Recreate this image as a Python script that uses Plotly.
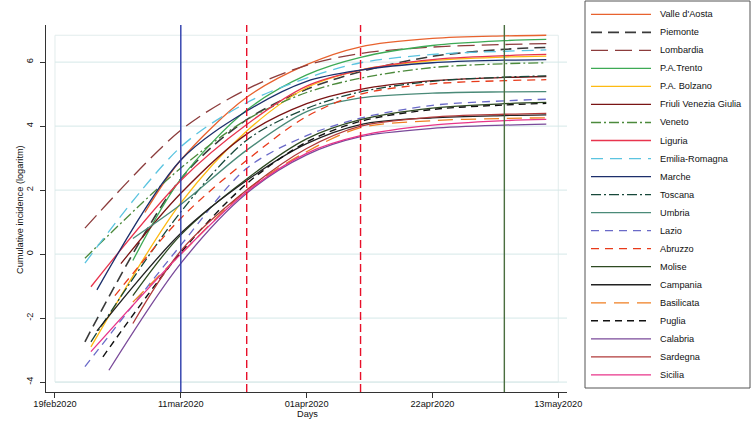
import plotly.graph_objects as go

# ---------------- data ----------------
regions = ["Valle d'Aosta", "Piemonte", "Lombardia", "P.A.Trento", "P.A. Bolzano",
           "Friuli Venezia Giulia", "Veneto", "Liguria", "Emilia-Romagna", "Marche",
           "Toscana", "Umbria", "Lazio", "Abruzzo", "Molise", "Campania",
           "Basilicata", "Puglia", "Calabria", "Sardegna", "Sicilia"]

start_dates = ["2020-03-05", "2020-02-24", "2020-02-24", "2020-03-03", "2020-02-25",
               "2020-03-01", "2020-02-24", "2020-02-25", "2020-02-24", "2020-02-26",
               "2020-02-25", "2020-03-03", "2020-02-24", "2020-02-29", "2020-03-03",
               "2020-02-26", "2020-03-03", "2020-02-27", "2020-02-28", "2020-03-03",
               "2020-02-25"]
start_vals = [1.30, -2.74, 0.81, -0.20, -2.90, -0.30, -0.13, -1.02, -0.28, -1.12,
              -2.74, 0.49, -3.52, -1.30, -1.30, -2.40, -1.50, -3.21, -3.63, -2.17, -3.05]

common_dates = ["2020-03-11", "2020-03-22", "2020-04-01", "2020-04-10",
                "2020-04-22", "2020-05-04", "2020-05-11"]
mar11 = [2.94, 2.35, 3.87, 2.35, 1.60, 1.90, 2.69, 2.30, 3.35, 2.94, 1.32, 1.55, 0.28,
         1.12, 0.60, 0.65, 0.00, 0.05, -0.29, 0.10, 0.00]
mar22 = [4.90, 4.20, 5.15, 4.50, 3.85, 3.75, 4.20, 4.05, 4.73, 4.47, 3.56, 3.25, 2.68,
         2.93, 2.35, 2.30, 2.00, 2.20, 1.90, 2.00, 1.95]
apr01 = [5.92, 5.15, 5.90, 5.60, 5.20, 4.70, 5.05, 5.25, 5.50, 5.40, 4.55, 4.45, 3.70,
         4.30, 3.60, 3.45, 3.20, 3.50, 3.10, 3.30, 3.15]
apr10 = [6.48, 5.70, 6.27, 6.15, 5.75, 5.15, 5.50, 5.75, 5.98, 5.75, 5.07, 4.88, 4.25,
         5.00, 4.20, 4.05, 3.95, 4.15, 3.67, 4.00, 3.70]
apr22 = [6.74, 6.18, 6.47, 6.52, 6.05, 5.42, 5.83, 6.08, 6.24, 5.98, 5.40, 5.03, 4.65,
         5.32, 4.56, 4.26, 4.17, 4.52, 3.93, 4.28, 4.03]
may04 = [6.82, 6.40, 6.55, 6.67, 6.16, 5.52, 5.95, 6.20, 6.34, 6.06, 5.53, 5.07, 4.79,
         5.42, 4.70, 4.33, 4.24, 4.66, 4.03, 4.37, 4.17]
may11 = [6.84, 6.46, 6.58, 6.71, 6.19, 5.55, 5.98, 6.24, 6.38, 6.08, 5.57, 5.08, 4.84,
         5.45, 4.74, 4.35, 4.26, 4.71, 4.06, 4.40, 4.21]

x_tick_vals = ["2020-02-19", "2020-03-11", "2020-04-01", "2020-04-22", "2020-05-13"]
x_tick_text = ["19feb2020", "11mar2020", "01apr2020", "22apr2020", "13may2020"]
y_tick_vals = [-4, -2, 0, 2, 4, 6]
y_tick_text = ["-4", "-2", "0", "2", "4", "6"]

vline_dates = ["2020-03-11", "2020-03-22", "2020-04-10", "2020-05-04"]

# ---------------- styles ----------------
colors = ["#E8622E", "#3A3A3A", "#8C3C3C", "#3DAA55", "#FDBA12", "#7A1414", "#4C8A3C",
          "#E8344E", "#5BC4E0", "#1C2F6B", "#17483A", "#4A8A78", "#6A6AC8", "#E83A1A",
          "#2E4A22", "#222222", "#F07F22", "#111111", "#7A4A9A", "#B03A3A", "#E8348A"]
dashes = ["solid", "11px,6px", "17px,7px", "solid", "solid", "solid",
          "10px,3px,2px,3px", "solid", "12px,7px", "solid", "10px,3px,2px,3px",
          "solid", "8px,6px", "8px,6px", "solid", "solid", "15px,8px", "7px,5px",
          "solid", "solid", "solid"]
widths = [1.3, 1.6, 1.3, 1.3, 1.3, 1.3, 1.3, 1.3, 1.3, 1.3, 1.3, 1.3, 1.3, 1.3, 1.3,
          1.3, 1.3, 1.4, 1.3, 1.3, 1.3]
vline_colors = ["#2A3AAA", "#E8102A", "#E8102A", "#4A6E40"]
vline_dash = ["solid", "8px,4px", "8px,4px", "solid"]

W, H = 753, 422
ml, mr, mt, mb = 46, 186, 25, 30
pw, ph = W - ml - mr, H - mt - mb


def px(xp):
    return (xp - ml) / pw


def py(yp):
    return (H - mb - yp) / ph


x_range = ["2020-02-17 12:00", "2020-05-14 11:00"]
y_range = [-4.31, 7.16]

fig = go.Figure()
for i, name in enumerate(regions):
    xs = [start_dates[i]] + common_dates
    ys = [start_vals[i], mar11[i], mar22[i], apr01[i], apr10[i], apr22[i], may04[i], may11[i]]
    fig.add_trace(go.Scatter(
        x=xs, y=ys, mode="lines", name=name, showlegend=False, hoverinfo="skip",
        line=dict(color=colors[i], dash=dashes[i], width=widths[i],
                  shape="spline", smoothing=0.9),
    ))

shapes = []
# inner plot region outline
shapes.append(dict(type="rect", xref="x", yref="y", x0=x_tick_vals[0], x1=x_tick_vals[-1],
                   y0=y_tick_vals[0], y1=max(may11), line=dict(color="#E2ECEC", width=1),
                   layer="below"))
# grid lines
for v in y_tick_vals:
    shapes.append(dict(type="line", xref="x", yref="y", x0=x_tick_vals[0], x1=x_range[1],
                       y0=v, y1=v, line=dict(color="#D5E8E8", width=1), layer="below"))
# vertical event lines
for d, c, ds in zip(vline_dates, vline_colors, vline_dash):
    shapes.append(dict(type="line", xref="x", yref="paper", x0=d, x1=d, y0=0, y1=1,
                       line=dict(color=c, width=1.4, dash=ds)))

# legend (box, line samples, labels)
shapes.append(dict(type="rect", xref="paper", yref="paper", x0=px(585), x1=px(750),
                   y0=py(388), y1=py(1), line=dict(color="#555555", width=1),
                   fillcolor="white", layer="below"))
annotations = []
for i, name in enumerate(regions):
    yc = 14.3 + 18.03 * i
    shapes.append(dict(type="line", xref="paper", yref="paper", x0=px(591), x1=px(651),
                       y0=py(yc), y1=py(yc),
                       line=dict(color=colors[i], dash=dashes[i], width=widths[i])))
    annotations.append(dict(xref="paper", yref="paper", x=px(658), y=py(yc), text=name,
                            showarrow=False, xanchor="left", yanchor="middle",
                            font=dict(size=9.2, color="#111111")))

# axis titles
annotations.append(dict(xref="paper", yref="paper", x=px(307), y=py(414), text="Days",
                        showarrow=False, xanchor="center", yanchor="middle",
                        font=dict(size=9.2, color="#111111")))
annotations.append(dict(xref="paper", yref="paper", x=px(20), y=py(210),
                        text="Cumulative incidence (logaritm)", textangle=-90,
                        showarrow=False, xanchor="center", yanchor="middle",
                        font=dict(size=9.2, color="#111111")))

fig.update_layout(
    width=W, height=H,
    margin=dict(l=ml, r=mr, t=mt, b=mb, pad=0, autoexpand=False),
    paper_bgcolor="white", plot_bgcolor="white",
    font=dict(family="Liberation Sans, Arial, sans-serif", size=9.2, color="#111111"),
    shapes=shapes, annotations=annotations, showlegend=False, hovermode=False,
    xaxis=dict(type="date", range=x_range, tickvals=x_tick_vals, ticktext=x_tick_text,
               showgrid=False, zeroline=False, showline=True, linecolor="#333333",
               linewidth=1.2, ticks="outside", ticklen=5, tickcolor="#333333",
               tickfont=dict(size=9.2), automargin=False, ticklabelstandoff=-2),
    yaxis=dict(range=y_range, tickvals=y_tick_vals, ticktext=y_tick_text, tickangle=-90,
               showgrid=False, zeroline=False, showline=True, linecolor="#333333",
               linewidth=1.2, ticks="outside", ticklen=5, tickcolor="#333333",
               tickfont=dict(size=9.2), automargin=False, ticklabelstandoff=3),
)

fig.write_html("out.html", config={"displayModeBar": False, "staticPlot": True},
               post_script="document.body.style.margin='0px';document.body.style.overflow='hidden';")
